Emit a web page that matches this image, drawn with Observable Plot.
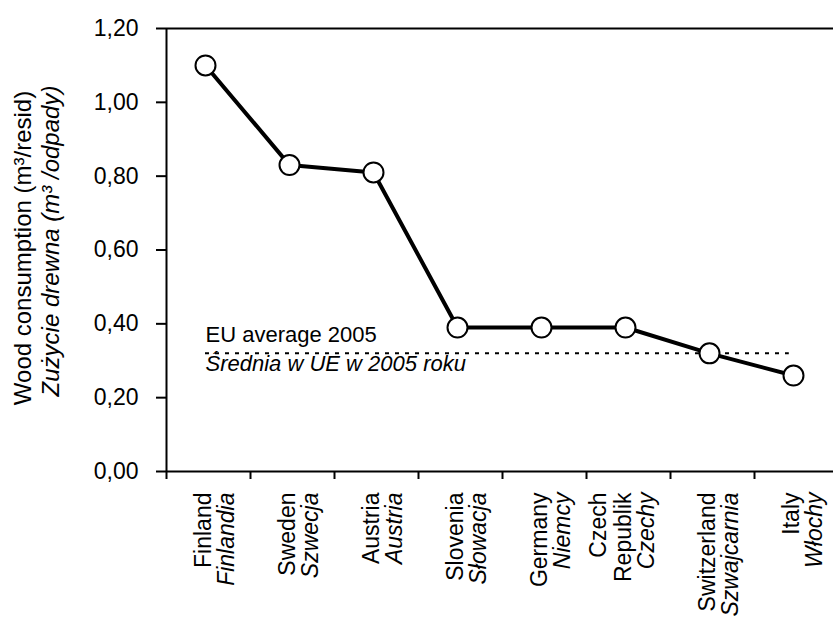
<!DOCTYPE html>
<html><head><meta charset="utf-8">
<script src="https://cdn.jsdelivr.net/npm/d3@7"></script>
<script src="https://cdn.jsdelivr.net/npm/@observablehq/plot@0.6"></script>
<style>body{margin:0;background:#fff}</style>
</head><body><div id="chart"></div>
<script>
// ---- data ----
const countriesEn = ["Finland","Sweden","Austria","Slovenia","Germany","Czech\nRepublik","Switzerland","Italy"];
const countriesPl = ["Finlandia","Szwecja","Austria","Słowacja","Niemcy","Czechy","Szwajcarnia","Włochy"];
const consumption = [1.10, 0.83, 0.81, 0.39, 0.39, 0.39, 0.32, 0.26];
const yTicks = [0, 0.2, 0.4, 0.6, 0.8, 1.0, 1.2];
const euAverage = 0.32;
const euLabelEn = "EU average 2005";
const euLabelPl = "Średnia w UE w 2005 roku";
const yLabelEn = "Wood consumption (m³/resid)";
const yLabelPl = "Zużycie drewna (m³ /odpady)";

const data = countriesEn.map((en, i) => ({pos: i + 0.5, en, pl: countriesPl[i], v: consumption[i]}));
const boundaries = d3.range(countriesEn.length + 1);
const fmt = d => d.toFixed(2).replace(".", ",");
const black = "#000";

const chart = Plot.plot({
  width: 833, height: 617,
  marginLeft: 166, marginRight: 0, marginTop: 28, marginBottom: 146,
  x: {type: "linear", domain: [0, countriesEn.length], range: [166, 838]},
  y: {domain: [0, 1.2], range: [471, 28]},
  style: {fontFamily: "'Liberation Sans', Arial, sans-serif", fontSize: "23px", color: black, background: "#fff", overflow: "visible"},
  marks: [
    // EU average
    Plot.ruleY([euAverage], {x1: 0.5, x2: countriesEn.length - 0.55, dx: -3, stroke: black, strokeWidth: 2, strokeDasharray: "4,6"}),
    Plot.text([euLabelEn], {text: d => d, x: 0.5, y: euAverage, dx: -3, dy: -11, textAnchor: "start", lineAnchor: "bottom", fontSize: 22, fill: black}),
    Plot.text([euLabelPl], {text: d => d, x: 0.5, y: euAverage, dx: -3, dy: 18, textAnchor: "start", lineAnchor: "bottom", fontSize: 22, fontStyle: "italic", fill: black}),
    // frame lines
    Plot.ruleX([0], {stroke: black, strokeWidth: 2}),
    Plot.ruleY([0], {stroke: black, strokeWidth: 2}),
    Plot.ruleY([1.2], {stroke: black, strokeWidth: 2}),
    // axes
    Plot.axisY({ticks: yTicks, tickFormat: fmt, tickSize: 10, tickPadding: 18, strokeWidth: 2, stroke: black, fill: black, fontSize: 23, label: null}),
    Plot.axisX({ticks: boundaries, tickFormat: () => "", tickSize: 8, strokeWidth: 2, stroke: black, label: null}),
    // data
    Plot.line(data, {x: "pos", y: "v", dx: -3, stroke: black, strokeWidth: 4}),
    Plot.dot(data, {x: "pos", y: "v", dx: -3, r: 10, fill: "#fff", stroke: black, strokeWidth: 2}),
    // category labels
    Plot.text(data, {x: "pos", y: 0, text: "en", dx: 2, dy: 21, rotate: -90, textAnchor: "end", lineAnchor: "bottom", lineHeight: 1.05, fontSize: 23, fill: black}),
    Plot.text(data, {x: "pos", y: 0, text: "pl", dx: 25, dy: 21, rotate: -90, textAnchor: "end", lineAnchor: "bottom", fontSize: 23, fontStyle: "italic", fill: black}),
    // y axis titles
    Plot.text([yLabelEn], {text: d => d, frameAnchor: "left", rotate: -90, dx: -136, dy: -2, textAnchor: "middle", lineAnchor: "bottom", fontSize: 24, fill: black}),
    Plot.text([yLabelPl], {text: d => d, frameAnchor: "left", rotate: -90, dx: -108, dy: -9, textAnchor: "middle", lineAnchor: "bottom", fontSize: 24, fontStyle: "italic", fill: black})
  ]
});
document.getElementById("chart").appendChild(chart);
</script>
</body></html>
